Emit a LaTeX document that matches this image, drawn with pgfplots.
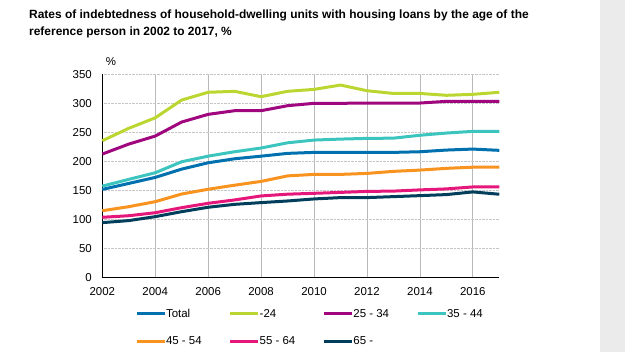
\documentclass[border=0pt]{standalone}
\usepackage{pgfplots}
\usepackage{pgfplotstable}
\pgfplotsset{compat=1.18}
\usepackage{fontspec}
\setmainfont{Liberation Sans}
\definecolor{band}{HTML}{EBEBEB}
\definecolor{cTotal}{HTML}{0070AE}
\definecolor{cU24}{HTML}{BCD631}
\definecolor{cA}{HTML}{A0067E}
\definecolor{cB}{HTML}{3CC5BE}
\definecolor{cC}{HTML}{F7931E}
\definecolor{cD}{HTML}{E5177A}
\definecolor{cE}{HTML}{003E5C}
\pgfplotstableread{
year total u24 a2534 a3544 a4554 a5564 a65
2002 151.7 235.5 212.6 157.4 115.0 103.7 94.5
2003 162.0 257.0 229.8 169.0 122.0 106.4 98.0
2004 172.4 275.0 243.6 180.4 130.6 111.6 104.8
2005 186.7 305.7 267.8 199.4 143.8 120.3 113.4
2006 197.6 319.0 281.0 209.0 152.0 127.8 121.0
2007 204.5 320.7 287.3 216.6 159.0 133.6 126.0
2008 209.0 311.4 287.3 223.0 165.5 140.5 129.0
2009 213.8 320.7 295.9 232.0 175.0 143.5 131.8
2010 215.5 324.0 300.0 236.7 177.6 145.0 135.3
2011 215.5 331.5 300.0 238.4 177.6 146.6 137.6
2012 215.5 321.7 300.5 239.6 179.3 148.3 137.6
2013 215.5 317.0 300.5 240.0 182.8 148.8 139.3
2014 216.6 317.0 300.5 245.0 185.0 150.9 141.0
2015 219.5 313.8 303.4 248.8 188.0 152.6 142.8
2016 221.2 315.5 303.4 251.7 190.0 156.0 147.4
2017 219.0 319.0 303.4 251.7 190.0 156.0 143.4
}\datatable
\begin{document}
\begin{tikzpicture}
\path (0bp,0bp) rectangle (625bp,352bp);
\fill[band] (600bp,0bp) rectangle (625bp,352bp);
\node[anchor=base west, inner sep=0pt, font=\bfseries\fontsize{12}{14}\selectfont] at (29bp,333.8bp) {Rates of indebtedness of household-dwelling units with housing loans by the age of the};
\node[anchor=base west, inner sep=0pt, font=\bfseries\fontsize{12}{14}\selectfont] at (29bp,316bp) {reference person in 2002 to 2017, \%};
\begin{axis}[
  at={(102.3bp,74.5bp)}, anchor=south west,
  scale only axis, width=397bp, height=203.2bp,
  xmin=2002, xmax=2017, ymin=0, ymax=350,
  xtick={2002,2004,...,2016}, ytick={0,50,...,350},
  axis x line*=bottom, axis y line*=left,
  axis line style={-, black, line width=0.9bp},
  major tick length=0pt,
  /pgf/number format/1000 sep={},
  /pgf/number format/assume math mode=true,
  tick label style={font=\fontsize{11.5}{13}\selectfont},
  xticklabel style={yshift=-6bp},
  yticklabel style={xshift=-7bp},
  xmajorgrids, ymajorgrids,
  x grid style={gray!55, line width=0.7bp},
  y grid style={gray!45, densely dotted, line width=0.7bp},
  clip=false,
  legend columns=4,
  legend style={at={(rel axis cs:0.0824,-0.1506)}, anchor=north west, draw=none, fill=none,
    inner sep=0pt, outer sep=0pt, font=\fontsize{11.5}{13}\selectfont,
    nodes={inner xsep=0pt, inner ysep=1pt}, row sep=16bp},
  legend image code/.code={\draw[#1, line width=3bp] (0bp,0bp) -- (28bp,0bp);},
  every axis plot/.append style={line width=3bp, no markers},
]
\addplot[cTotal] table[x=year,y=total] {\datatable};
\addlegendentry{\makebox[62.7bp][l]{Total}}
\addplot[cU24] table[x=year,y=u24] {\datatable};
\addlegendentry{\makebox[62.7bp][l]{-24}}
\addplot[cA] table[x=year,y=a2534] {\datatable};
\addlegendentry{\makebox[62.7bp][l]{25 - 34}}
\addplot[cB] table[x=year,y=a3544] {\datatable};
\addlegendentry{\makebox[62.7bp][l]{35 - 44}}
\addplot[cC] table[x=year,y=a4554] {\datatable};
\addlegendentry{\makebox[62.7bp][l]{45 - 54}}
\addplot[cD] table[x=year,y=a5564] {\datatable};
\addlegendentry{\makebox[62.7bp][l]{55 - 64}}
\addplot[cE] table[x=year,y=a65] {\datatable};
\addlegendentry{\makebox[62.7bp][l]{65 -}}
\node[font=\fontsize{11.5}{13}\selectfont] at (rel axis cs:0,1) [xshift=8.7bp, yshift=13bp] {\%};
\end{axis}
\end{tikzpicture}
\end{document}
